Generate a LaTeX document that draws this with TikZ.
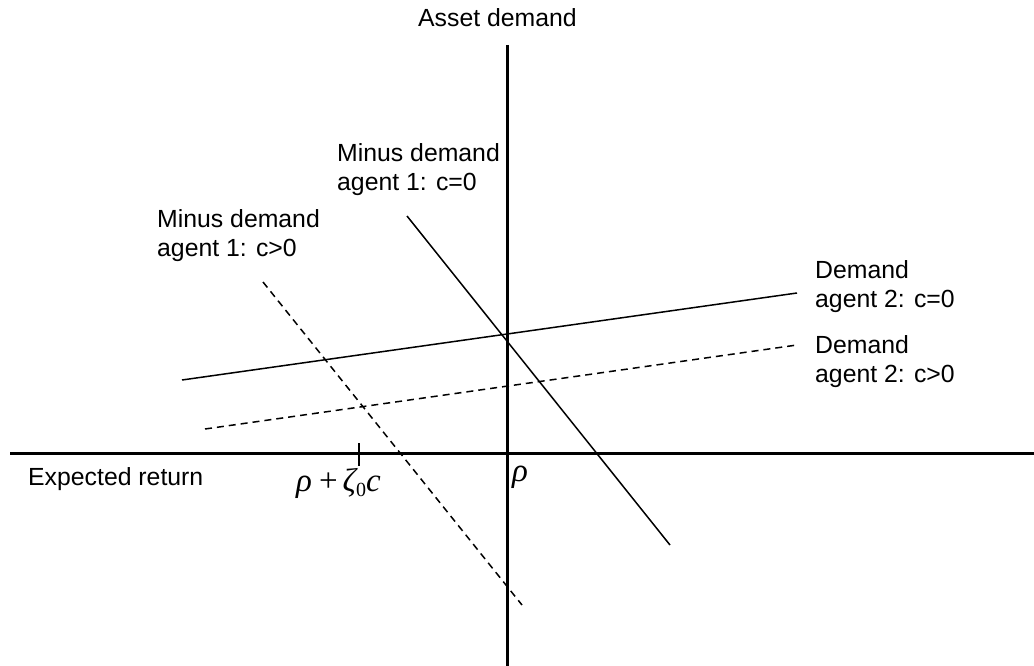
\documentclass[tikz,border=0pt]{standalone}
\usepackage{fontspec}
\setmainfont{Liberation Sans}
\newfontfamily\serifmath{Liberation Serif}
\newcommand{\mi}[1]{{\serifmath\itshape #1}}
\begin{document}
\begin{tikzpicture}[x=1pt,y=-1pt,
  axis/.style={line width=3pt},
  curve/.style={line width=1.5pt},
  dcurve/.style={line width=1.5pt,dash pattern=on 7pt off 5pt},
  lbl/.style={inner sep=0pt,anchor=base west,align=left,font=\fontsize{24.8}{29}\selectfont},
  mlbl/.style={inner sep=0pt,anchor=base west,font=\fontsize{33}{36}\selectfont}]
\useasboundingbox (0,0) rectangle (1034,666);
% axes
\coordinate (vtop) at (507,45);
\coordinate (vbot) at (507,666);
\coordinate (hl) at (10,453);
\coordinate (hr) at (1034,453);
\draw[axis] (vtop) -- (vbot);
\draw[axis] (hl) -- (hr);
% tick
\coordinate (t1) at (359,443);
\coordinate (t2) at (359,466);
\draw[line width=1.5pt] (t1) -- (t2);
% lines
\coordinate (m0a) at (407,216);
\coordinate (m0b) at (670,545);
\draw[curve] (m0a) -- (m0b);
\coordinate (m1a) at (263,282);
\coordinate (m1b) at (522,605);
\draw[dcurve] (m1a) -- (m1b);
\coordinate (d0a) at (182,380);
\coordinate (d0b) at (797,293);
\draw[curve] (d0a) -- (d0b);
\coordinate (d1a) at (205,429);
\coordinate (d1b) at (797,345);
\draw[dcurve] (d1a) -- (d1b);
% labels
\node[lbl] (ya) at (418,27) {Asset demand};
\node[lbl] (xa) at (28,485) {Expected return};
\node[lbl] (lm0) at (337,190) {Minus demand\\agent 1: c=0};
\node[lbl] (lm1) at (157,256) {Minus demand\\agent 1: c>0};
\node[lbl] (ld0) at (815,307) {Demand\\agent 2: c=0};
\node[lbl] (ld1) at (815,382) {Demand\\agent 2: c>0};
\node[mlbl] (rho) at (512,481) {\mi{ρ}};
\node[mlbl] (rz) at (296,491) {\mi{ρ}\hspace{7pt}{\serifmath+}\hspace{5pt}\mi{ζ}\raisebox{-5pt}{\serifmath\fontsize{20}{20}\selectfont 0}\mi{c}};
\end{tikzpicture}
\end{document}
